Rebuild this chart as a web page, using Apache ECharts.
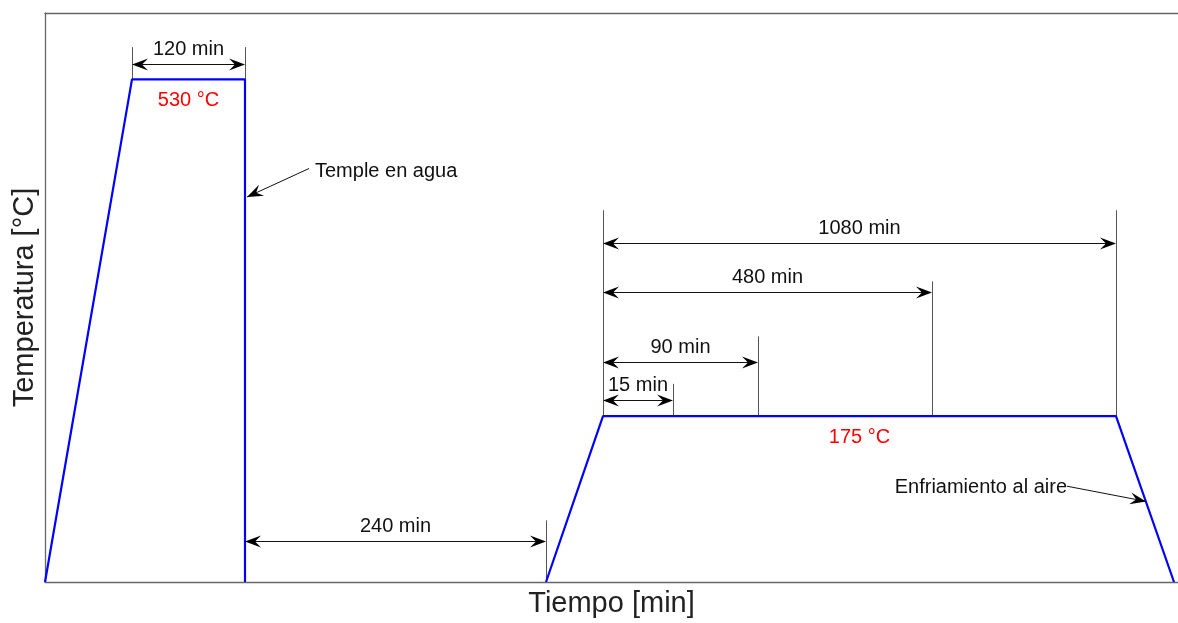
<!DOCTYPE html>
<html>
<head>
<meta charset="utf-8">
<script src="https://cdn.jsdelivr.net/npm/echarts@6/dist/echarts.min.js"></script>
<style>
  html, body { margin: 0; padding: 0; background: #fff; }
  #chart { width: 1178px; height: 623px; }
</style>
</head>
<body>
<div id="chart"></div>
<script>
// Heat-treatment cycle: solution + water quench, rest, artificial aging, air cooling.
// Time axis is schematic (not to scale); temperature axis in °C.

// Solution treatment and quench
const quenchX = [0, 87, 200, 200];
const quenchT = [0, 530, 530, 0];
// Aging and air cooling
const agingX = [501, 558, 1071, 1129];
const agingT = [0, 175, 175, 0];

// Dimensioned intervals
const spanLabels = ['120 min', '240 min', '15 min', '90 min', '480 min', '1080 min'];
const spanStart  = [87, 200, 558, 558, 558, 558];
const spanEnd    = [200, 501, 628, 713, 887, 1071];
const spanLevel  = [546, 43, 192, 232, 306, 357];

// Extension lines for the dimensions
const extX    = [87, 200, 501, 558, 628, 713, 887, 1071];
const extFrom = [530, 530, 0, 175, 175, 175, 175, 175];
const extTo   = [564, 564, 65, 392, 209, 259, 317, 392];

// Callouts
const noteLabels = ['Temple en agua', 'Enfriamiento al aire'];
const noteFromX  = [264, 1022];
const noteFromT  = [436, 101];
const noteToX    = [202, 1101];
const noteToT    = [406, 85];

// Plateau temperatures
const tempLabels = ['530 °C', '175 °C'];

const FONT = '"Liberation Sans", Arial, sans-serif';
const TEXT = '#111';

function zip() {
  const cols = Array.from(arguments);
  return cols[0].map((_, i) => cols.map(c => c[i]));
}

function arrowHead(tip, from) {
  const dx = tip[0] - from[0], dy = tip[1] - from[1];
  const len = Math.hypot(dx, dy) || 1;
  const ux = dx / len, uy = dy / len;
  const px = -uy, py = ux;
  const L = 16, N = 10, W = 6;
  return {
    type: 'polygon',
    shape: { points: [
      [tip[0], tip[1]],
      [tip[0] - ux * L + px * W, tip[1] - uy * L + py * W],
      [tip[0] - ux * N, tip[1] - uy * N],
      [tip[0] - ux * L - px * W, tip[1] - uy * L - py * W]
    ] },
    style: { fill: '#000' }
  };
}

const chart = echarts.init(document.getElementById('chart'), null, { renderer: 'canvas' });

const option = {
  animation: false,
  backgroundColor: '#fff',
  grid: { left: 45, right: 0, top: 13, bottom: 37 },
  xAxis: [{
    type: 'value', min: 0, max: 1133,
    name: 'Tiempo [min]', nameLocation: 'middle', nameGap: 7,
    nameTextStyle: { fontSize: 29, color: '#222', fontFamily: FONT },
    axisLine: { show: true, lineStyle: { color: '#666', width: 1.3 } },
    axisTick: { show: false }, axisLabel: { show: false }, splitLine: { show: false }
  }, {
    type: 'value', min: 0, max: 1133, position: 'top',
    axisLine: { show: true, lineStyle: { color: '#666', width: 1.3 } },
    axisTick: { show: false }, axisLabel: { show: false }, splitLine: { show: false }
  }],
  yAxis: {
    type: 'value', min: 0, max: 600,
    name: 'Temperatura [°C]', nameLocation: 'middle', nameGap: 6,
    nameTextStyle: { fontSize: 29, color: '#222', fontFamily: FONT },
    axisLine: { show: true, lineStyle: { color: '#666', width: 1.3 } },
    axisTick: { show: false }, axisLabel: { show: false }, splitLine: { show: false }
  },
  series: [
    {
      type: 'custom', name: 'extension', z: 2,
      data: zip(extX, extFrom, extTo),
      renderItem(params, api) {
        const a = api.coord([api.value(0), api.value(1)]);
        const b = api.coord([api.value(0), api.value(2)]);
        const x = Math.round(a[0]) + 0.5;
        return { type: 'line', shape: { x1: x, y1: a[1], x2: x, y2: b[1] },
          style: { stroke: '#555', lineWidth: 1 } };
      }
    },
    {
      type: 'line', name: 'Temple', data: zip(quenchX, quenchT), z: 5,
      symbol: 'none', lineStyle: { color: '#0000ff', width: 2.2 }
    },
    {
      type: 'line', name: 'Envejecido', data: zip(agingX, agingT), z: 5,
      symbol: 'none', lineStyle: { color: '#0000ff', width: 2.2 }
    },
    {
      type: 'custom', name: 'dimensions', z: 6,
      data: zip(spanStart, spanEnd, spanLevel),
      renderItem(params, api) {
        const p1 = api.coord([api.value(0), api.value(2)]);
        const p2 = api.coord([api.value(1), api.value(2)]);
        const y = Math.round(p1[1]) + 0.5;
        const a = [p1[0], y], b = [p2[0], y];
        return { type: 'group', children: [
          { type: 'line', shape: { x1: a[0] + 8, y1: y, x2: b[0] - 8, y2: y },
            style: { stroke: '#111', lineWidth: 1 } },
          arrowHead(a, b),
          arrowHead(b, a),
          { type: 'text', x: (a[0] + b[0]) / 2, y: y - 15,
            style: { text: spanLabels[params.dataIndex], align: 'center', verticalAlign: 'middle',
              font: '20px ' + FONT, fill: TEXT } }
        ] };
      }
    },
    {
      type: 'custom', name: 'notes', z: 6,
      data: zip(noteFromX, noteFromT, noteToX, noteToT),
      renderItem(params, api) {
        const s = api.coord([api.value(0), api.value(1)]);
        const t = api.coord([api.value(2), api.value(3)]);
        const left = t[0] < s[0];
        return { type: 'group', children: [
          { type: 'line', shape: { x1: s[0], y1: s[1], x2: t[0], y2: t[1] },
            style: { stroke: '#111', lineWidth: 1 } },
          arrowHead(t, s),
          { type: 'text', x: left ? s[0] + 6 : s[0], y: s[1] + (left ? 3 : 1),
            style: { text: noteLabels[params.dataIndex], align: left ? 'left' : 'right',
              verticalAlign: 'middle', font: '20px ' + FONT, fill: TEXT } }
        ] };
      }
    },
    {
      type: 'custom', name: 'plateaus', z: 6,
      data: [
        [(quenchX[1] + quenchX[2]) / 2, quenchT[1]],
        [(agingX[1] + agingX[2]) / 2, agingT[1]]
      ],
      renderItem(params, api) {
        const p = api.coord([api.value(0), api.value(1)]);
        return { type: 'text', x: p[0], y: p[1] + 21,
          style: { text: tempLabels[params.dataIndex], align: 'center', verticalAlign: 'middle',
            font: '20px ' + FONT, fill: '#ff0000' } };
      }
    }
  ]
};

chart.setOption(option);
</script>
</body>
</html>
